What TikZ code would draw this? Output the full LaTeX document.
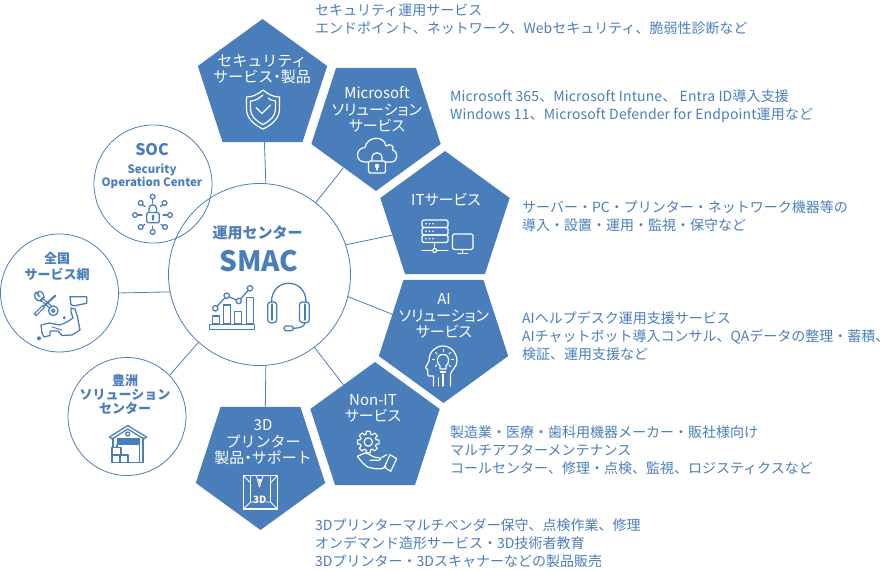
\documentclass[tikz,border=0pt]{standalone}
\usepackage{fontspec}
\setmainfont{Noto Sans CJK JP}
\newfontfamily\paltfont[RawFeature={+palt}]{Noto Sans CJK JP}
\usetikzlibrary{shapes.geometric}
\definecolor{smacblue}{HTML}{4A7EBB}
\tikzset{
  pentup/.style={regular polygon, regular polygon sides=5, minimum size=136pt, inner sep=0pt, outer sep=0pt, fill=smacblue},
  pentdown/.style={pentup, shape border rotate=180},
  ring/.style={circle, draw=smacblue, line width=0.8pt, inner sep=0pt, outer sep=0pt},
  link/.style={draw=smacblue, line width=0.8pt},
  boxtext/.style={text=white, align=center, inner sep=0pt, font=\paltfont\fontsize{15}{16.5}\selectfont},
  ringtext/.style={text=smacblue, align=center, inner sep=0pt, font=\fontsize{13}{14}\selectfont\bfseries},
  desc/.style={text=smacblue, align=left, anchor=west, inner sep=0pt, font=\fontsize{14}{18}\selectfont},
  wicon/.style={draw=white, line width=1.2pt, line join=round, line cap=round},
  bicon/.style={draw=smacblue, line width=1.3pt, line join=round, line cap=round},
}
\begin{document}
\begin{tikzpicture}[x=1pt, y=-1pt]
    \useasboundingbox (0,0) rectangle (890,570);

    % Rings
    \node[ring, minimum size=182pt] (smac) at (259.5,274.5) {};
    \node[ring, minimum size=118pt] (soc) at (153,184) {};
    \node[ring, minimum size=118pt] (zenkoku) at (59.5,293) {};
    \node[ring, minimum size=118pt] (toyosu) at (127,416.5) {};

    % Pentagons
    \node[pentup] (secbox) at (262.5,87) {};
    \node[pentdown] (msbox) at (376,123) {};
    \node[pentup] (itbox) at (445,219) {};
    \node[pentdown] (aibox) at (443.5,335) {};
    \node[pentup] (nonitbox) at (375,430) {};
    \node[pentdown] (printbox) at (260.5,462) {};

    % Links
    \draw[link] (smac.86.5) -- (secbox.272.6);
    \draw[link] (smac.52.8) -- (msbox.234.6);
    \draw[link] (smac.19.4) -- (itbox.197);
    \draw[link] (smac.-14.9) -- (aibox.158);
    \draw[link] (smac.-53.7) -- (nonitbox.125.7);
    \draw[link] (smac.-86.5) -- (printbox.85.2);
    \draw[link] (smac.191.6) -- (zenkoku.0);
    \draw[link] (smac.228.8) -- (toyosu.44);

    % Pentagon labels
    \node[boxtext] (sectext) at (262,69) {{\rmfamily セキュリティ}\\{\rmfamily サービス}・{\rmfamily 製品}};
    \node[boxtext] (mstext) at (377,109.5) {Microsoft\\ソリューション\\サービス};
    \node[boxtext] (ittext) at (446,200) {ITサービス};
    \node[boxtext] (aitext) at (444,316) {AI\\ソリューション\\サービス};
    \node[boxtext] (nonittext) at (373,408.5) {Non-IT\\サービス};
    \node[boxtext] (printtext) at (263,442.5) {3D\\{\rmfamily プリンター}\\{\rmfamily 製品}・{\rmfamily サポート}};

    % Ring labels
    \node[ringtext, font=\fontsize{15}{18}\selectfont\bfseries] (smactext) at (257.5,233) {運用センター};
    \node[ringtext, font=\fontsize{28}{30}\selectfont\bfseries] (smacname) at (259,261) {SMAC};
    \node[ringtext, font=\fontsize{16}{18}\selectfont\bfseries] (soctext) at (152,150) {SOC};
    \node[ringtext, font=\fontsize{11.5}{13}\selectfont\bfseries] (socname) at (152,176.5) {Security\\Operation Center};
    \node[ringtext, font=\fontsize{13}{16}\selectfont\bfseries] (zenkokutext) at (57,266.5) {全国\\サービス網};
    \node[ringtext] (toyosutext) at (125,394.5) {豊洲\\ソリューション\\センター};

    % Descriptions
    \node[desc] (secdesc) at (315,19.5) {セキュリティ運用サービス\\エンドポイント、ネットワーク、Webセキュリティ、脆弱性診断など};
    \node[desc, font=\addfontfeature{LetterSpace=1}\fontsize{14}{18}\selectfont] (msdesc) at (450,106.5) {Microsoft 365、Microsoft Intune、 Entra ID導入支援\\Windows 11、Microsoft Defender for Endpoint運用など};
    \node[desc] (itdesc) at (522,216) {サーバー・PC・プリンター・ネットワーク機器等の\\導入・設置・運用・監視・保守など};
    \node[desc] (aidesc) at (522,336) {AIヘルプデスク運用支援サービス\\AIチャットボット導入コンサル、QAデータの整理・蓄積、\\検証、運用支援など};
    \node[desc] (nonitdesc) at (450,450) {製造業・医療・歯科用機器メーカー・販社様向け\\マルチアフターメンテナンス\\コールセンター、修理・点検、監視、ロジスティクスなど};
    \node[desc] (printdesc) at (315,543) {3Dプリンターマルチベンダー保守、点検作業、修理\\オンデマンド造形サービス・3D技術者教育\\3Dプリンター・3Dスキャナーなどの製品販売};

    % Shield icon
    \draw[wicon] (263,90) .. controls (257,95) and (252,97) .. (246.5,97) -- (246.5,109) .. controls (246.5,118) and (254,125) .. (263,129) .. controls (272,125) and (279.5,118) .. (279.5,109) -- (279.5,97) .. controls (274,97) and (269,95) .. (263,90) -- cycle;
    \draw[wicon] (263,95) .. controls (258,99) and (255,101) .. (250.5,101) -- (250.5,109) .. controls (250.5,116) and (256,121) .. (263,124.5) .. controls (270,121) and (275.5,116) .. (275.5,109) -- (275.5,101) .. controls (272,101) and (270,99.5) .. (268,98);
    \draw[wicon, line width=1.4pt] (256,107.5) -- (262,113.5) -- (270.5,105);

    % Cloud and lock icon
    \draw[wicon] (368,162) -- (365,162) .. controls (355,162) and (355,148) .. (365,147.5) .. controls (367,136) and (384,135) .. (386,146) .. controls (390,143) and (395,146) .. (392.5,150) .. controls (399,152) and (398,162) .. (391,162) -- (386,162);
    \draw[wicon, rounded corners=1.5pt] (368.5,161) rectangle (385.5,173);
    \draw[wicon] (372,161) -- (372,158) .. controls (372,151) and (382,151) .. (382,158) -- (382,161);
    \filldraw[white] (377,166) circle (2);
    \draw[wicon] (377,166) -- (377,170);

    % Server and monitor icon
    \draw[wicon, rounded corners=1.5pt] (422,220) rectangle (448,227.5);
    \draw[wicon, rounded corners=1.5pt] (422,227.5) rectangle (448,235);
    \draw[wicon, rounded corners=1.5pt] (422,235) rectangle (448,242.5);
    \foreach \rowy in {223.7,231.2,238.7} {
        \foreach \dotx in {426,429.5,433} {
            \fill[white] (\dotx,\rowy) circle (0.9);
        }
    }
    \draw[wicon] (434.7,242.5) -- (434.7,248.5);
    \draw[wicon] (422,250.5) -- (432.5,250.5) (437,250.5) -- (448,250.5);
    \draw[wicon] (434.7,250.5) circle (2);
    \draw[wicon, rounded corners=1.5pt] (452.5,234) rectangle (473,249.5);
    \draw[wicon] (462.8,249.5) -- (462.8,253) (458,253.3) -- (467.5,253.3);

    % Head and bulb icon
    \draw[wicon] (433.5,386) -- (433.5,376) -- (429,376) .. controls (427,376) and (428,371) .. (427.5,369.5) -- (425.5,367.5) -- (429,361) .. controls (429,352) and (435,346) .. (443,346) .. controls (451,346) and (457,353) .. (457,361) .. controls (457,367) and (452,369) .. (450.5,374) -- (450.5,386);
    \draw[wicon] (443,354.5) .. controls (436,354.5) and (436,362.5) .. (440,366) -- (440,369) -- (446,369) -- (446,366) .. controls (450,362.5) and (450,354.5) .. (443,354.5) -- cycle;
    \draw[wicon] (440.5,372) -- (445.5,372) (443,374) -- (443,386) (438.5,378) -- (438.5,386);
    \foreach \ax/\ay/\bx/\by in {443/349.5/443/351.5, 435.5/352.5/437/354, 450.5/352.5/449/354, 432.5/359.5/434.5/359.5, 453.5/359.5/451.5/359.5, 435.5/366.5/437/365, 450.5/366.5/449/365} {
        \draw[wicon, line width=0.9pt] (\ax,\ay) -- (\bx,\by);
    }

    % Gear and hand icon
    \draw[wicon, shift={(368.3,442)}] (-16:8.2) \foreach \a in {0,45,...,315} { -- (\a-16:8.2) -- (\a-10:11) -- (\a+10:11) -- (\a+16:8.2) } -- cycle;
    \draw[wicon] (368.3,442) circle (4.2);
    \draw[wicon] (370,460.3) -- (377.7,460.3) .. controls (382,460) and (381.5,458) .. (378,457.5) -- (375,457.3) .. controls (371,456) and (369,453.5) .. (365,453) -- (357.3,456.3) .. controls (361,461) and (364,465) .. (368.3,467.3) -- (375,468.7) -- (381.7,468.7) -- (386,466.3);
    \draw[wicon] (381.7,457.5) -- (386.7,454.7);
    \draw[wicon] (390,454.7) -- (396.7,458.7) -- (390.7,471.3) -- (384.3,467.3) -- cycle;

    % 3D printer icon
    \draw[wicon, line width=1.7pt, line cap=butt] (243.5,475.5) rectangle (277.5,509);
    \draw[wicon, line width=0.9pt] (243.5,475.5) -- (250.5,483) (277.5,475.5) -- (270.5,483) (243.5,509) -- (250.5,502) (277.5,509) -- (270.5,502) (250.5,476) -- (250.5,502) (270.5,476) -- (270.5,502) (250.5,502) -- (254,502) (266,502) -- (270.5,502);
    \draw[wicon, line width=0.9pt] (256.5,476) -- (259.5,487) -- (263,476);
    \fill[white] (258,479) -- (261.5,479) -- (259.7,484) -- cycle;
    \node[inner sep=0pt, text=white, font=\fontsize{10}{10}\selectfont\bfseries] (printlabel) at (259.7,499.5) {3D};

    % Network lock icon
    \foreach \nx/\ny/\sx/\sy/\ex/\ey in {152.7/196.7/152.7/199.2/152.7/203, 140.7/203/142.5/204.8/145/206.5, 164.5/203/162.7/204.8/160.5/206.5, 135/215/137.5/215/142/215, 170/215/167.5/215/163/215, 140.7/227/142.7/225.7/145/224.5, 165/227/163/225.7/161/224.5, 152.7/232/152.7/229.5/152.7/226} {
        \draw[bicon] (\nx,\ny) circle (2.4);
        \draw[bicon] (\sx,\sy) -- (\ex,\ey);
    }
    \draw[bicon, rounded corners=1.5pt] (146.7,212.5) rectangle (159.3,222.7);
    \draw[bicon] (149,212.5) -- (149,208.5) .. controls (149,203.5) and (156.5,203.5) .. (156.5,208.5) -- (156.5,212.5);
    \fill[smacblue] (153,216) circle (1.5);
    \draw[bicon] (153,216) -- (153,220);

    % Tools and map icon
    \draw[bicon, line width=3.8pt, line cap=butt] (41,298.5) -- (52,308.5);
    \draw[white, line width=1.2pt] (42,299.4) -- (51,307.6);
    \draw[bicon] (36,292) .. controls (33,296) and (35,301) .. (41,301) -- (44,297.5) .. controls (44,292) and (40,291) .. (38.5,291.5) -- (38,295) -- (40,297) -- (36,292);
    \draw[bicon, fill=white] (53.3,310.7) circle (4.8);
    \draw[bicon] (53.3,310.7) circle (1.6);
    \draw[bicon, line width=3.6pt, line cap=butt] (35,315) -- (44,306);
    \draw[white, line width=1.1pt] (36,314) -- (43,307);
    \draw[bicon, line width=2pt] (44,306) -- (55.5,295.5);
    \draw[bicon] (70,296.7) -- (86.7,296.7) -- (86.7,303.3) -- (75,305.7) -- (71,305) -- cycle;
    \draw[bicon] (71,308) -- (75,309) -- (77.5,317) -- (80,330) -- (72,335) -- (62,335.5) -- (58,331) -- (50,331) -- (50,335.5) -- (44,337) -- (42,333) -- (41,325) -- (49,323) -- (60,325) -- (67,322) -- (73,318) -- (71,312) -- cycle;
    \draw[bicon, line width=0.9pt] (52,327) -- (62,330);
    \fill[smacblue] (64.3,317.7) circle (1.6);
    \fill[smacblue] (39,338.3) circle (2);

    % Warehouse icon
    \draw[bicon] (109.5,437) -- (127.7,425.5) -- (146.5,437) -- (144,439) -- (127.7,429) -- (112,439) -- cycle;
    \draw[bicon] (113,438) -- (113,462.5) -- (143,462.5) -- (143,438);
    \draw[bicon] (127.7,434) circle (2);
    \fill[smacblue] (117,437.5) rectangle (139.5,445);
    \draw[bicon] (117,445) -- (117,449) (139.5,445) -- (139.5,462.5);
    \draw[bicon, fill=white] (112,447.5) rectangle (121,455);
    \draw[bicon, fill=white] (112,455) rectangle (120,462.5);
    \draw[bicon, fill=white] (120,455) rectangle (128,462.5);

    % Chart icon
    \draw[bicon] (209.5,324.2) rectangle (254.7,329.2);
    \draw[bicon] (212.7,324) rectangle (219.3,316);
    \draw[bicon] (223.3,324) rectangle (230.7,305);
    \draw[bicon] (234.7,324) rectangle (241.3,311.7);
    \draw[bicon] (246.7,324) rectangle (253.3,297.3);
    \draw[bicon] (215.3,308.3) -- (226.7,295.7) -- (238.7,301) -- (250,288.3);
    \foreach \cx/\cy in {215.3/308.3, 226.7/295.7, 238.7/301, 250/288.3} {
        \draw[bicon, fill=white] (\cx,\cy) circle (2.7);
    }

    % Headset icon
    \draw[bicon] (271.5,302) .. controls (271.5,277) and (306,277) .. (306,302);
    \draw[bicon, rounded corners=3pt] (267.7,302) rectangle (276.7,322.7);
    \draw[bicon, rounded corners=3pt] (299.5,302) rectangle (309.3,322.7);
    \draw[bicon] (272,304) -- (272,320) (305,304) -- (305,320);
    \draw[bicon] (305,322.7) .. controls (305,327) and (298,328.3) .. (293.3,328.3);
    \draw[bicon, rounded corners=2.3pt] (284,326) rectangle (293.3,330.7);
\end{tikzpicture}
\end{document}
